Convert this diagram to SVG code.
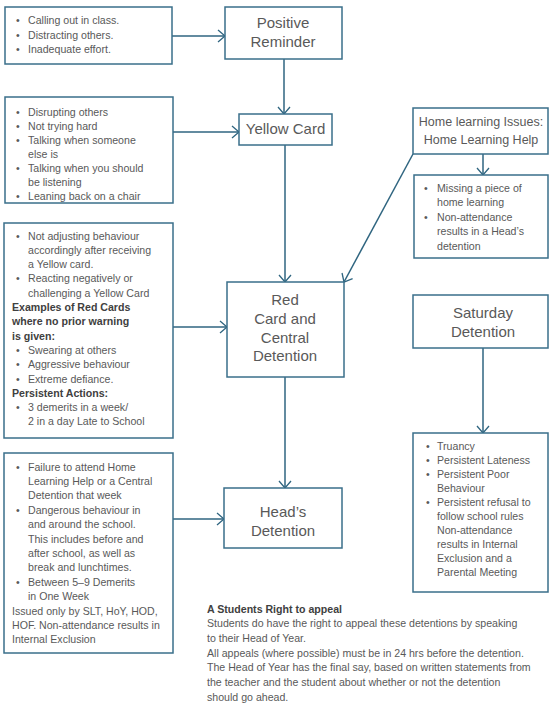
<svg xmlns="http://www.w3.org/2000/svg" width="550" height="710" viewBox="0 0 550 710">
<defs>
<marker id="arr" markerUnits="userSpaceOnUse" markerWidth="14" markerHeight="14" viewBox="-10 -7 12 14" refX="0" refY="0" orient="auto">
<path d="M-7,-6 L0,0 L-7,6" fill="none" stroke="#2f6580" stroke-width="1.3"/>
</marker>
</defs>
<style>
.box{fill:#fff;stroke:#3a6f8a;stroke-width:1.5}
.t{font-family:"Liberation Sans",Arial,sans-serif;font-size:10.6px;fill:#595959}
.b{font-weight:bold;fill:#404040}
.n{font-family:"Liberation Sans",Arial,sans-serif;font-size:15px;fill:#595959;text-anchor:middle}
.h{font-family:"Liberation Sans",Arial,sans-serif;font-size:12.5px;fill:#595959;text-anchor:middle}
.c{fill:none;stroke:#2f6580;stroke-width:1.5;marker-end:url(#arr)}
</style>
<rect width="550" height="710" fill="#fff"/>

<g id="connectors">
<line class="c" x1="172" y1="36" x2="225" y2="36"/>
<line class="c" x1="284" y1="59" x2="284" y2="114"/>
<line class="c" x1="173" y1="132" x2="239" y2="132"/>
<line class="c" x1="285" y1="145" x2="285" y2="282"/>
<line class="c" x1="413" y1="154" x2="344" y2="282"/>
<line class="c" x1="483" y1="154" x2="483" y2="175"/>
<line class="c" x1="173" y1="327" x2="227" y2="327"/>
<line class="c" x1="285" y1="377" x2="285" y2="488"/>
<line class="c" x1="173" y1="519" x2="224" y2="519"/>
<line class="c" x1="483" y1="348" x2="483" y2="433"/>
</g>

<g id="box1">
<rect class="box" x="5" y="7" width="167" height="57"/>
<text class="t" x="16" y="24">•</text><text class="t" x="28" y="24">Calling out in class.</text>
<text class="t" x="16" y="38.5">•</text><text class="t" x="28" y="38.5">Distracting others.</text>
<text class="t" x="16" y="53">•</text><text class="t" x="28" y="53">Inadequate effort.</text>
</g>

<g id="positive-reminder">
<rect class="box" x="225" y="7" width="117" height="52"/>
<text class="n" x="283" y="28">Positive</text>
<text class="n" x="283" y="47">Reminder</text>
</g>

<g id="box2">
<rect class="box" x="5" y="97" width="168" height="106"/>
<text class="t" x="16" y="115.5">•</text><text class="t" x="28" y="115.5">Disrupting others</text>
<text class="t" x="16" y="129.5">•</text><text class="t" x="28" y="129.5">Not trying hard</text>
<text class="t" x="16" y="143.5">•</text><text class="t" x="28" y="143.5">Talking when someone</text>
<text class="t" x="28" y="157.5">else is</text>
<text class="t" x="16" y="171.5">•</text><text class="t" x="28" y="171.5">Talking when you should</text>
<text class="t" x="28" y="185.5">be listening</text>
<text class="t" x="16" y="199.5">•</text><text class="t" x="28" y="199.5">Leaning back on a chair</text>
</g>

<g id="yellow-card">
<rect class="box" x="239" y="114" width="93" height="31"/>
<text class="n" x="285.5" y="134">Yellow Card</text>
</g>

<g id="home-learning">
<rect class="box" x="413" y="108" width="135" height="46"/>
<text class="h" x="481" y="126">Home learning Issues:</text>
<text class="h" x="481" y="144">Home Learning Help</text>
</g>

<g id="home-learning-list">
<rect class="box" x="414" y="175" width="134" height="83"/>
<text class="t" x="424" y="191.5">•</text><text class="t" x="437" y="191.5">Missing a piece of</text>
<text class="t" x="437" y="206">home learning</text>
<text class="t" x="424" y="220.5">•</text><text class="t" x="437" y="220.5">Non-attendance</text>
<text class="t" x="437" y="235">results in a Head’s</text>
<text class="t" x="437" y="249.5">detention</text>
</g>

<g id="box3">
<rect class="box" x="4" y="223" width="169" height="215"/>
<text class="t" x="16" y="239.5">•</text><text class="t" x="28" y="239.5">Not adjusting behaviour</text>
<text class="t" x="28" y="253.8">accordingly after receiving</text>
<text class="t" x="28" y="268.1">a Yellow card.</text>
<text class="t" x="16" y="282.4">•</text><text class="t" x="28" y="282.4">Reacting negatively or</text>
<text class="t" x="28" y="296.7">challenging a Yellow Card</text>
<text class="t b" x="12" y="311">Examples of Red Cards</text>
<text class="t b" x="12" y="325.3">where no prior warning</text>
<text class="t b" x="12" y="339.6">is given:</text>
<text class="t" x="16" y="353.9">•</text><text class="t" x="28" y="353.9">Swearing at others</text>
<text class="t" x="16" y="368.2">•</text><text class="t" x="28" y="368.2">Aggressive behaviour</text>
<text class="t" x="16" y="382.5">•</text><text class="t" x="28" y="382.5">Extreme defiance.</text>
<text class="t b" x="12" y="396.8">Persistent Actions:</text>
<text class="t" x="16" y="411.1">•</text><text class="t" x="28" y="411.1">3 demerits in a week/</text>
<text class="t" x="28" y="425.4">2 in a day Late to School</text>
</g>

<g id="red-card">
<rect class="box" x="227" y="282" width="117" height="95"/>
<text class="n" x="285" y="305">Red</text>
<text class="n" x="285" y="324">Card and</text>
<text class="n" x="285" y="343">Central</text>
<text class="n" x="285" y="361">Detention</text>
</g>

<g id="saturday-detention">
<rect class="box" x="413" y="295" width="135" height="53"/>
<text class="n" x="483" y="318">Saturday</text>
<text class="n" x="483" y="337">Detention</text>
</g>

<g id="saturday-list">
<rect class="box" x="413" y="433" width="135" height="159"/>
<text class="t" x="426" y="449.5">•</text><text class="t" x="437" y="449.5">Truancy</text>
<text class="t" x="426" y="463.5">•</text><text class="t" x="437" y="463.5">Persistent Lateness</text>
<text class="t" x="426" y="477.5">•</text><text class="t" x="437" y="477.5">Persistent Poor</text>
<text class="t" x="437" y="491.5">Behaviour</text>
<text class="t" x="426" y="505.5">•</text><text class="t" x="437" y="505.5">Persistent refusal to</text>
<text class="t" x="437" y="519.5">follow school rules</text>
<text class="t" x="437" y="533.5">Non-attendance</text>
<text class="t" x="437" y="547.5">results in Internal</text>
<text class="t" x="437" y="561.5">Exclusion and a</text>
<text class="t" x="437" y="575.5">Parental Meeting</text>
</g>

<g id="box4">
<rect class="box" x="4" y="453" width="169" height="200"/>
<text class="t" x="16" y="470.5">•</text><text class="t" x="28" y="470.5">Failure to attend Home</text>
<text class="t" x="28" y="484.9">Learning Help or a Central</text>
<text class="t" x="28" y="499.3">Detention that week</text>
<text class="t" x="16" y="513.7">•</text><text class="t" x="28" y="513.7">Dangerous behaviour in</text>
<text class="t" x="28" y="528.1">and around the school.</text>
<text class="t" x="28" y="542.5">This includes before and</text>
<text class="t" x="28" y="556.9">after school, as well as</text>
<text class="t" x="28" y="571.3">break and lunchtimes.</text>
<text class="t" x="16" y="585.7">•</text><text class="t" x="28" y="585.7">Between 5–9 Demerits</text>
<text class="t" x="28" y="600.1">in One Week</text>
<text class="t" x="12" y="614.5">Issued only by SLT, HoY, HOD,</text>
<text class="t" x="12" y="628.9">HOF. Non-attendance results in</text>
<text class="t" x="12" y="643.3">Internal Exclusion</text>
</g>

<g id="heads-detention">
<rect class="box" x="224" y="488" width="118" height="60"/>
<text class="n" x="283" y="517">Head’s</text>
<text class="n" x="283" y="536">Detention</text>
</g>

<g id="appeal">
<text class="t b" x="207" y="612.5">A Students Right to appeal</text>
<text class="t" x="207" y="627.2">Students do have the right to appeal these detentions by speaking</text>
<text class="t" x="207" y="641.9">to their Head of Year.</text>
<text class="t" x="207" y="656.6">All appeals (where possible) must be in 24 hrs before the detention.</text>
<text class="t" x="207" y="671.3">The Head of Year has the final say, based on written statements from</text>
<text class="t" x="207" y="686">the teacher and the student about whether or not the detention</text>
<text class="t" x="207" y="700.7">should go ahead.</text>
</g>
</svg>
